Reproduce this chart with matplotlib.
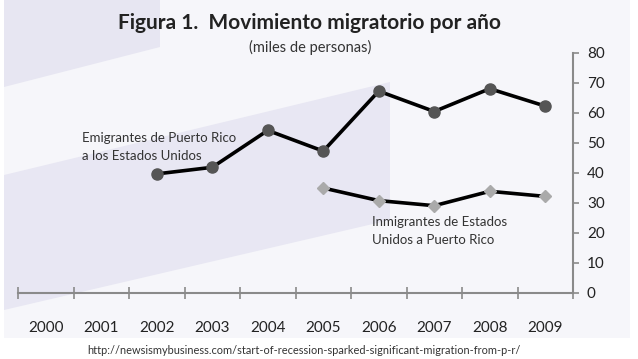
import numpy as np
import matplotlib.pyplot as plt
from matplotlib.patches import Polygon, Rectangle

# datos (miles de personas)
anios = ['2000', '2001', '2002', '2003', '2004', '2005', '2006', '2007', '2008', '2009']
emigrantes_anios = ['2002', '2003', '2004', '2005', '2006', '2007', '2008', '2009']
emigrantes = [39.7, 41.9, 54.2, 47.3, 67.3, 60.5, 68.1, 62.3]
inmigrantes_anios = ['2005', '2006', '2007', '2008', '2009']
inmigrantes = [35.0, 30.8, 29.1, 33.9, 32.2]
yticks = [0, 10, 20, 30, 40, 50, 60, 70, 80]

plt.rcParams['font.family'] = ['Lato', 'DejaVu Sans']

W, H = 638, 359
fig = plt.figure(figsize=(W / 100, H / 100), dpi=100)
fig.patch.set_facecolor('white')

def fx(x):
    return x / W

def fy(y):
    return 1 - y / H

# fondo claro y formas lavanda
fig.patches.append(Rectangle((fx(4), fy(338)), fx(626), 338 / H, transform=fig.transFigure,
                             facecolor='#f6f6fa', edgecolor='none', zorder=-3))
arriba = [(4, 0), (160, 0), (160, 47), (4, 87)]
fig.patches.append(Polygon([(fx(a), fy(b)) for a, b in arriba], closed=True, transform=fig.transFigure,
                           facecolor='#e7e6f2', edgecolor='none', zorder=-2))
banda = [(4, 175), (390, 82), (390, 220), (4, 310)]
fig.patches.append(Polygon([(fx(a), fy(b)) for a, b in banda], closed=True, transform=fig.transFigure,
                           facecolor='#e8e7f3', edgecolor='none', zorder=-2))

ax = fig.add_axes([fx(18), fy(293), fx(555), (293 - 53) / H])
ax.set_zorder(2)
ax.patch.set_alpha(0)

x = np.arange(len(anios))
xe = [anios.index(a) for a in emigrantes_anios]
xi = [anios.index(a) for a in inmigrantes_anios]

ax.plot(xe, emigrantes, color='black', linewidth=2.6, marker='o', markersize=8,
        markerfacecolor='#555555', markeredgecolor='#555555', zorder=3)
ax.plot(xi, inmigrantes, color='black', linewidth=2.6, marker='D', markersize=6,
        markerfacecolor='#aaaaaa', markeredgecolor='#aaaaaa', zorder=3)

ax.set_xlim(-0.5, len(anios) - 0.5)
ax.set_ylim(0, 80)

for s in ['top', 'left']:
    ax.spines[s].set_visible(False)
ax.spines['bottom'].set_color('#8a8a8a')
ax.spines['right'].set_color('#8a8a8a')
ax.spines['bottom'].set_linewidth(1.5)
ax.spines['right'].set_linewidth(1.5)

ax.yaxis.tick_right()
ax.set_yticks(yticks)
ax.set_yticklabels([str(v) for v in yticks])
ax.tick_params(axis='y', direction='out', length=4, width=1.2, color='#8a8a8a',
               labelsize=11, labelcolor='#222222', pad=6)

ax.set_xticks(np.arange(len(anios) + 1) - 0.5)
ax.set_xticklabels([])
ax.set_xticks(x, minor=True)
ax.set_xticklabels(anios, minor=True)
ax.tick_params(axis='x', which='major', direction='inout', length=9, width=1.2, color='#8a8a8a')
ax.tick_params(axis='x', which='minor', length=0, labelsize=11, labelcolor='#222222', pad=20)

fig.text(fx(310), fy(23), 'Figura 1.  Movimiento migratorio por año', ha='center', va='center',
         fontsize=15, fontweight='bold', color='#222222')
fig.text(fx(310), fy(47), '(miles de personas)', ha='center', va='center',
         fontsize=10.5, color='#333333')

fig.text(fx(82), fy(138), 'Emigrantes de Puerto Rico', ha='left', va='center', fontsize=9.5, color='#333333')
fig.text(fx(82), fy(156), 'a los Estados Unidos', ha='left', va='center', fontsize=9.5, color='#333333')
fig.text(fx(372), fy(222), 'Inmigrantes de Estados', ha='left', va='center', fontsize=9.5, color='#333333')
fig.text(fx(372), fy(240), 'Unidos a Puerto Rico', ha='left', va='center', fontsize=9.5, color='#333333')

fig.text(fx(304), fy(350), 'http://newsismybusiness.com/start-of-recession-sparked-significant-migration-from-p-r/',
         ha='center', va='center', fontsize=7.9, color='#333333')

fig.savefig('out.png', dpi=100)
